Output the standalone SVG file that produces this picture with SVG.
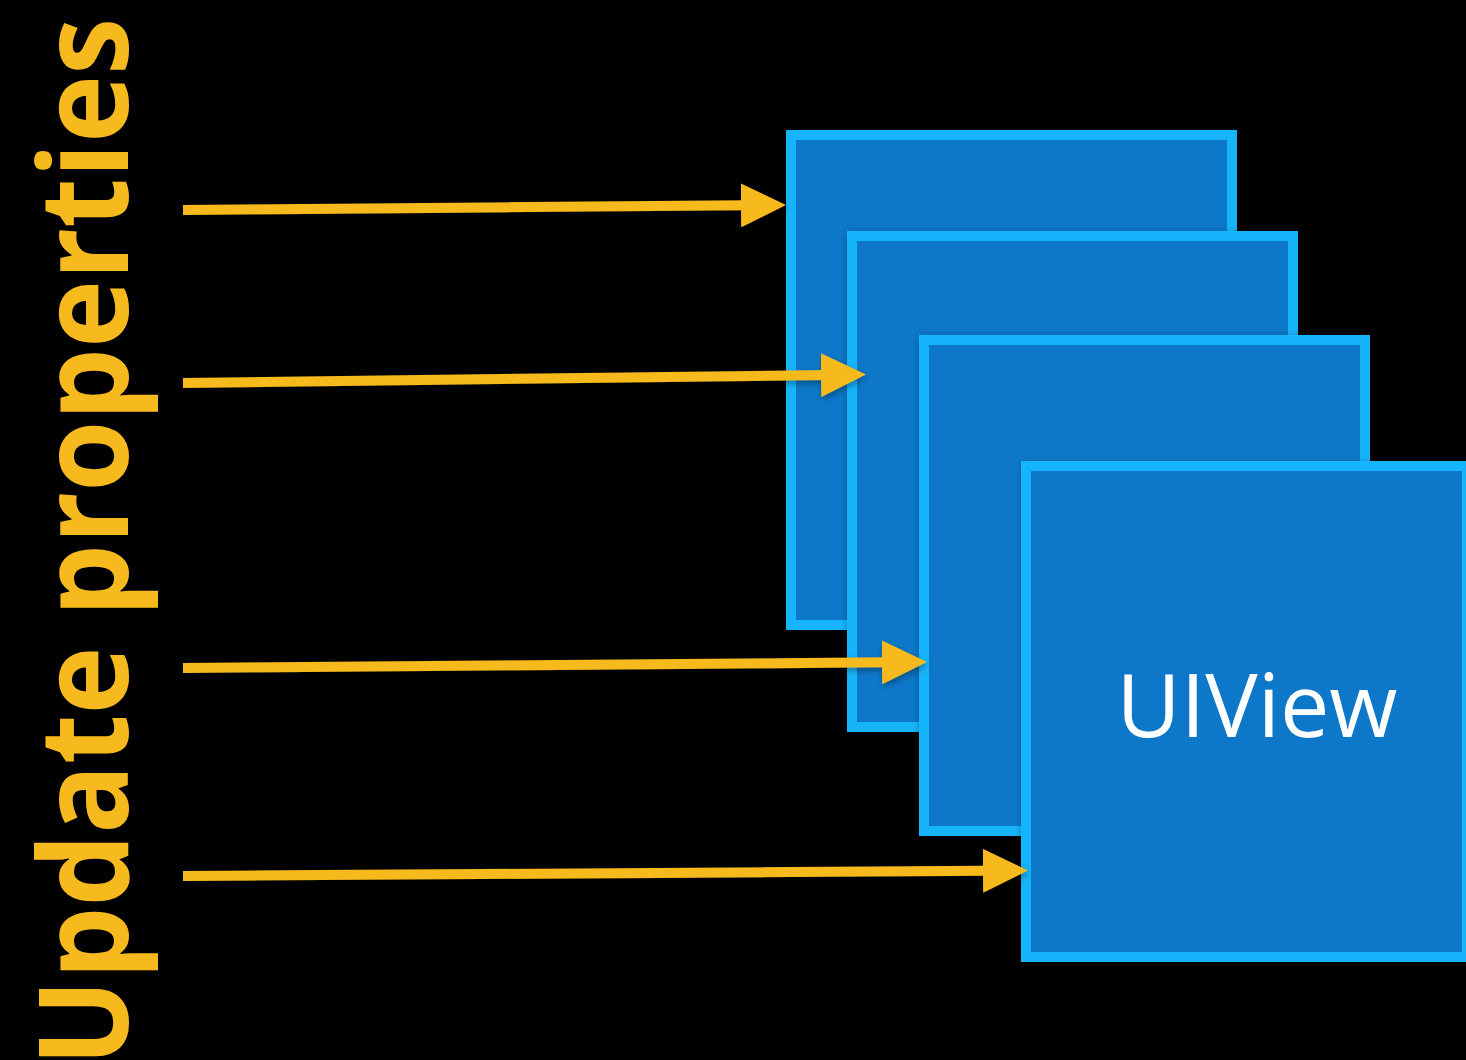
<svg xmlns="http://www.w3.org/2000/svg" width="1466" height="1060" viewBox="0 0 1466 1060">
  <style>
    .view-frame { fill: #0F78C9; stroke: #18B4FB; stroke-width: 10; filter: url(#soft-shadow); }
    .view-label { fill: #FFFFFF; font-family: "Open Sans", "Noto Sans", "Liberation Sans", sans-serif; font-size: 88px; }
    .title { fill: #F6BA1E; font-family: "Open Sans", "Noto Sans", "Liberation Sans", sans-serif; font-weight: 700; font-size: 124px; }
    .arrow { stroke: #F6BA1E; stroke-width: 10; fill: none; marker-end: url(#head); }
  </style>
  <defs>
    <filter id="soft-shadow" x="-10%" y="-10%" width="130%" height="130%">
      <feDropShadow dx="2" dy="3" stdDeviation="4" flood-color="#000000" flood-opacity="0.45"/>
    </filter>
    <filter id="arrow-shadow" filterUnits="userSpaceOnUse" x="0" y="0" width="1466" height="1060">
      <feDropShadow dx="1" dy="3" stdDeviation="3" flood-color="#000000" flood-opacity="0.35"/>
    </filter>
    <marker id="head" viewBox="0 -22 45 44" markerUnits="userSpaceOnUse" markerWidth="45" markerHeight="44" refX="4" refY="0" orient="auto">
      <path d="M0,-22 L45,0 L0,22 Z" fill="#F6BA1E"/>
    </marker>
  </defs>

  <rect width="1466" height="1060" fill="#000000"/>

  <!-- rotated heading -->
  <text class="title" transform="translate(128,1066) rotate(-90)" x="0" y="0" textLength="1048" lengthAdjust="spacingAndGlyphs">Update properties</text>

  <!-- stacked views, back to front -->
  <g id="view-1">
    <rect class="view-frame" x="791" y="135" width="441" height="490"/>
  </g>
  <g id="view-2">
    <rect class="view-frame" x="852" y="236" width="441" height="491"/>
  </g>
  <g id="view-3">
    <rect class="view-frame" x="924" y="340" width="441" height="491"/>
    <text class="view-label" x="1155" y="611" text-anchor="middle">UIView</text>
  </g>
  <g id="view-4">
    <rect class="view-frame" x="1026" y="466" width="441" height="491"/>
    <text class="view-label" x="1257" y="737" text-anchor="middle">UIView</text>
  </g>

  <!-- property update arrows -->
  <g id="connectors" filter="url(#arrow-shadow)">
    <line class="arrow" x1="183" y1="210" x2="745" y2="205.3"/>
    <line class="arrow" x1="183" y1="383" x2="825" y2="375"/>
    <line class="arrow" x1="183" y1="668" x2="886" y2="662.3"/>
    <line class="arrow" x1="183" y1="876" x2="987" y2="870.8"/>
  </g>
</svg>
